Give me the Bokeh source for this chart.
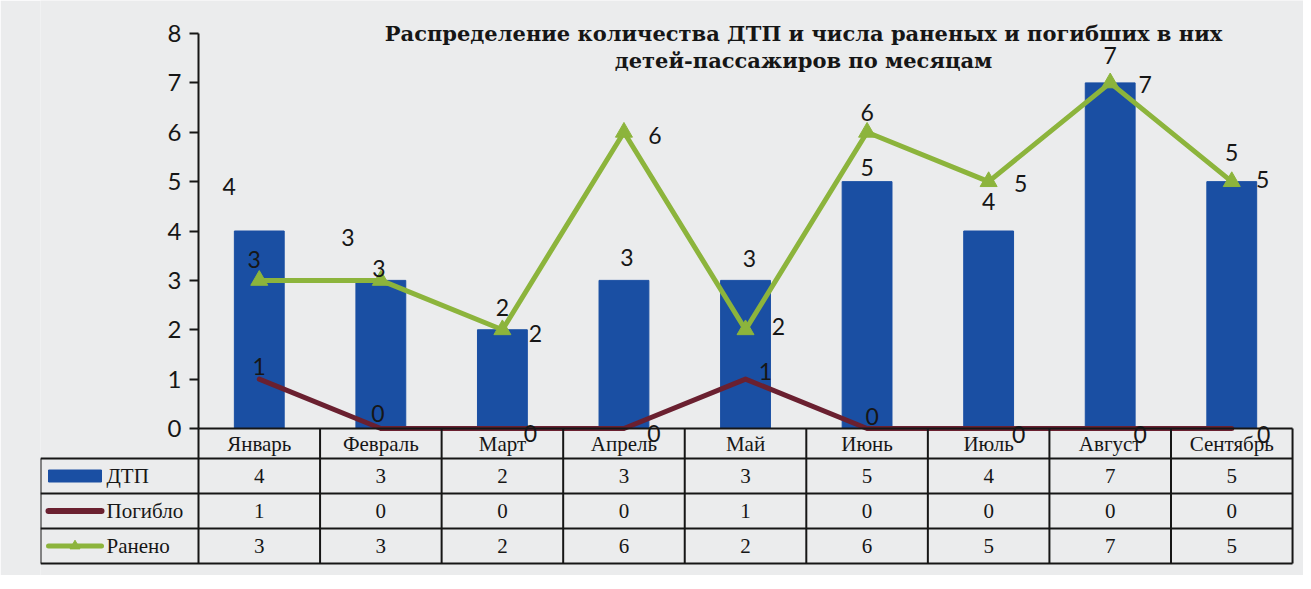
from bokeh.plotting import figure
from bokeh.models import Range1d, LinearAxis, FixedTicker, ColumnDataSource
from bokeh.embed import file_html
from bokeh.resources import INLINE
from bokeh.core.properties import value

# ---------------- data ----------------
months = ["Январь", "Февраль", "Март", "Апрель", "Май", "Июнь", "Июль", "Август", "Сентябрь"]
dtp = [4, 3, 2, 3, 3, 5, 4, 7, 5]
pogiblo = [1, 0, 0, 0, 1, 0, 0, 0, 0]
raneno = [3, 3, 2, 6, 2, 6, 5, 7, 5]
series_names = ["ДТП", "Погибло", "Ранено"]
y_ticks = [0, 1, 2, 3, 4, 5, 6, 7, 8]
title_lines = ["Распределение количества ДТП и числа раненых и погибших в них",
               "детей-пассажиров по месяцам"]

# ---------------- style ----------------
BG = "#ebeced"
BLUE = "#1a4fa3"
MAROON = "#6a2030"
GREEN = "#8cb43c"
INK = "#161616"
SERIF = "Liberation Serif"
SANS = "Lato"

W = 1303
H = 575
L0 = 40             # canvas px where the frame starts (table left edge)
AXPX = 198          # canvas px of the value axis
PXX = 121.56        # px per category
PXY = 49.375        # px per value unit
TOP = 33            # px above value 8
HDR = 30 / PXY      # header row height in value units
ROW = 35 / PXY      # table row height in value units

# label offsets in px (dx right, dy up)
bar_lbl_off = [(-30, 45), (-33, 43), (0, 22), (3, 23), (4, 22), (0, 14), (0, 30), (0, 27), (0, 29)]
ran_lbl_off = [(-5, 21), (-2, 12), (33, -4), (31, -3), (33, 3), (0, 20), (32, -2), (35, -2), (31, 2)]
pog_lbl_off = [(0, 13), (-3, 15), (28, -5), (30, -5), (20, 8), (5, 12), (30, -6), (30, -6), (32, -6)]

n = len(months)
xs = list(range(n))
x_start = -0.5 - (AXPX - L0) / PXX
x_end = (n - 0.5) + (W - AXPX - n * PXX) / PXX
y_end = 8 + TOP / PXY
y_start = y_end - H / PXY
bounds_x = [i - 0.5 for i in range(n + 1)]
tl = x_start                      # table left edge
row_lines = [-HDR - k * ROW for k in range(4)]
row_centers = [-HDR - (k + 0.5) * ROW for k in range(3)]

p = figure(width=W, height=H, x_range=Range1d(x_start, x_end), y_range=Range1d(y_start, y_end),
           output_backend="svg", toolbar_location=None,
           x_axis_location=None, y_axis_location=None,
           min_border_left=L0, min_border_right=0, min_border_top=0, min_border_bottom=0,
           background_fill_color=BG, border_fill_color=BG, outline_line_color=None)
for g in p.grid:
    g.visible = False

yax = LinearAxis(ticker=FixedTicker(ticks=y_ticks), bounds=(0, 8), fixed_location=-0.5,
                 axis_line_color=INK, axis_line_width=2,
                 major_tick_line_color=INK, major_tick_line_width=2,
                 major_tick_out=9, major_tick_in=0, minor_tick_line_color=None,
                 major_label_text_font=SANS, major_label_text_font_size="24px",
                 major_label_text_color=INK, major_label_standoff=8)
p.add_layout(yax, "left")

src = ColumnDataSource(dict(x=xs, dtp=dtp, pog=pogiblo, ran=raneno))
p.vbar(x="x", top="dtp", width=0.41, color=BLUE, source=src)
p.line("x", "pog", line_width=5, color=MAROON, line_join="round", line_cap="round", source=src)

# table grid
p.segment(x0=[-0.5], y0=[0], x1=[n - 0.5], y1=[0], line_color=INK, line_width=2)
p.segment(x0=[tl] * 4, y0=row_lines, x1=[n - 0.5] * 4, y1=row_lines, line_color=INK, line_width=2)
p.segment(x0=bounds_x, y0=[0] * len(bounds_x), x1=bounds_x, y1=[row_lines[-1]] * len(bounds_x),
          line_color=INK, line_width=2)
p.segment(x0=[tl], y0=[row_lines[0]], x1=[tl], y1=[row_lines[-1]], line_color=INK, line_width=2)

p.line("x", "ran", line_width=5, color=GREEN, line_join="round", source=src)
p.scatter("x", "ran", marker="triangle", size=17, color=GREEN, source=src)

def lbl(vals, offs):
    return dict(x=[i + o[0] / PXX for i, o in zip(xs, offs)],
                y=[v + o[1] / PXY for v, o in zip(vals, offs)],
                t=[str(v) for v in vals])

for vals, offs in [(dtp, bar_lbl_off), (raneno, ran_lbl_off), (pogiblo, pog_lbl_off)]:
    p.text(x="x", y="y", text="t", source=ColumnDataSource(lbl(vals, offs)),
           text_font=value(SANS), text_font_size="23px", text_color=INK,
           text_align="center", text_baseline="middle")

# month names in header row
p.text(x=xs, y=[-HDR / 2] * n, text=months, text_font=value(SERIF),
       text_font_size="21px", text_color=INK, text_align="center", text_baseline="middle")

# table values
for yc, vals in zip(row_centers, [dtp, pogiblo, raneno]):
    p.text(x=xs, y=[yc] * n, text=[str(v) for v in vals], text_font=value(SERIF),
           text_font_size="21px", text_color=INK, text_align="center", text_baseline="middle")

# legend keys in the table
k0, k1 = tl + 8 / PXX, tl + 61 / PXX
p.quad(left=[k0], right=[k1], bottom=[row_centers[0] - 6 / PXY], top=[row_centers[0] + 6 / PXY],
       color=BLUE)
p.segment(x0=[k0], y0=[row_centers[1]], x1=[k1], y1=[row_centers[1]], line_color=MAROON,
          line_width=6, line_cap="round")
p.segment(x0=[k0], y0=[row_centers[2]], x1=[k1], y1=[row_centers[2]], line_color=GREEN,
          line_width=5, line_cap="round")
p.scatter(x=[(k0 + k1) / 2], y=[row_centers[2]], marker="triangle", size=10, color=GREEN)
p.text(x=[tl + 66 / PXX] * 3, y=row_centers, text=series_names, text_font=value(SERIF),
       text_font_size="21px", text_color=INK, text_align="left", text_baseline="middle")

# title
tcx = -0.5 + (803 - AXPX) / PXX
p.text(x=[tcx, tcx], y=[8.0, 8.0 - 27 / PXY], text=title_lines, text_font=value("DejaVu Serif"),
       text_font_style="bold", text_font_size="21px", text_color=INK,
       text_align="center", text_baseline="middle")

open("out.html", "w").write(file_html(p, INLINE))
